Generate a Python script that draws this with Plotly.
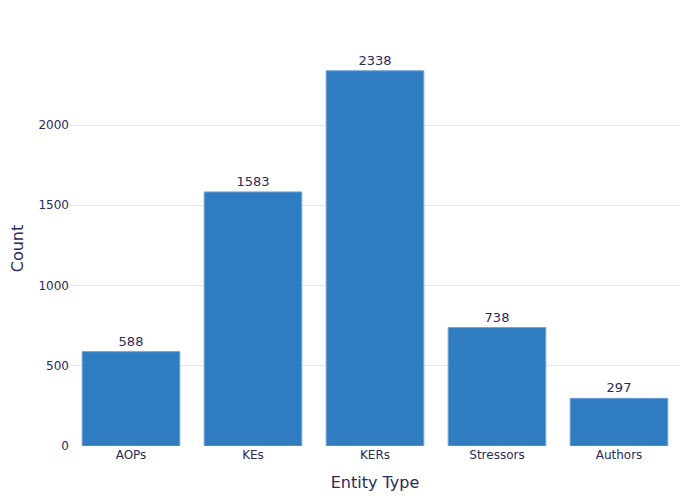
import plotly.graph_objects as go

entity_types = ["AOPs", "KEs", "KERs", "Stressors", "Authors"]
counts = [588, 1583, 2338, 738, 297]

fig = go.Figure(
    go.Bar(
        x=entity_types,
        y=counts,
        text=counts,
        textposition="outside",
        marker_color="#307CC0",
        marker_line_color="#6FA3D6",
        marker_line_width=1,
    )
)

fig.update_layout(
    template="plotly_white",
    width=700,
    height=500,
    margin=dict(l=62, r=28, t=43, b=62),
    font=dict(family="DejaVu Sans", color="#2a2a5e", size=12),
    xaxis_title="Entity Type",
    yaxis_title="Count",
    xaxis_title_font_size=16,
    yaxis_title_font_size=16,
    bargap=0.2,
    showlegend=False,
)
fig.update_traces(textfont_size=13, cliponaxis=False)
fig.update_yaxes(gridcolor="#e5e5e5", zeroline=False, automargin=False,
                 title_standoff=18)

fig.write_html("out.html")
